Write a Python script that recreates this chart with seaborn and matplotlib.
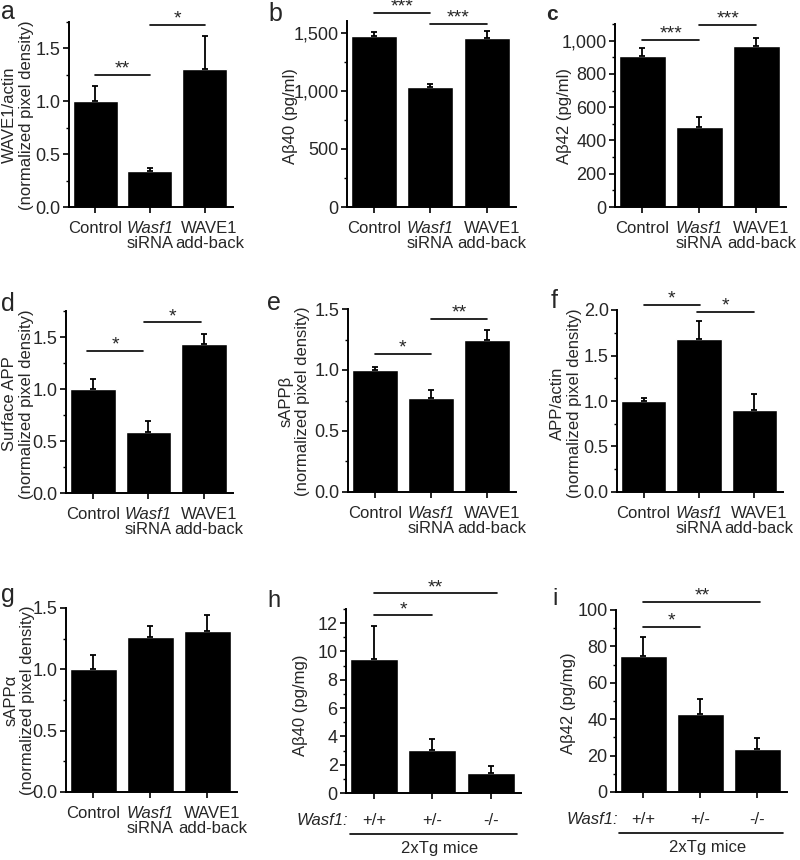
import matplotlib
matplotlib.use("Agg")
import matplotlib.pyplot as plt
import matplotlib.ticker as mticker
import matplotlib.font_manager as fm
import seaborn as sns
import pandas as pd
import numpy as np

# ---------------- data ----------------
groups = ["Control", "Wasf1 siRNA", "WAVE1 add-back"]
genotypes = ["+/+", "+/-", "-/-"]

wave1_actin = [1.00, 0.34, 1.31]
wave1_actin_err = [0.14, 0.03, 0.31]
ab40_cells = [1470, 1030, 1450]
ab40_cells_err = [38, 30, 60]
ab42_cells = [905, 480, 970]
ab42_cells_err = [50, 60, 45]
surface_app = [1.00, 0.59, 1.43]
surface_app_err = [0.10, 0.10, 0.10]
sapp_beta = [1.00, 0.77, 1.25]
sapp_beta_err = [0.025, 0.065, 0.08]
app_actin = [1.00, 1.68, 0.90]
app_actin_err = [0.035, 0.20, 0.175]
sapp_alpha = [1.00, 1.26, 1.31]
sapp_alpha_err = [0.12, 0.09, 0.13]
ab40_mice = [9.5, 3.05, 1.4]
ab40_mice_err = [2.27, 0.78, 0.5]
ab42_mice = [74.7, 42.8, 23.6]
ab42_mice_err = [10.5, 8.2, 6.1]

# significance brackets: (x_start, x_end, y, label)
sig_a = [(0, 1, 1.25, "**"), (1, 2, 1.72, "*")]
sig_b = [(0, 1, 1673, "***"), (1, 2, 1574, "***")]
sig_c = [(0, 1, 1006, "***"), (1, 2, 1094, "***")]
sig_d = [(-0.1, 0.9, 1.365, "*"), (0.92, 1.95, 1.64, "*")]
sig_e = [(0, 1, 1.13, "*"), (1, 2, 1.418, "**")]
sig_f = [(0, 1.02, 2.055, "*"), (0.97, 2, 1.98, "*")]
sig_g = []
sig_h = [(0, 1, 12.55, "*"), (0, 2.1, 14.1, "**")]
sig_i = [(0, 1, 90.7, "*"), (0, 2.05, 104.4, "**")]

# ---------------- style ----------------
fm.fontManager.ttflist = [f for f in fm.fontManager.ttflist
                          if "narrow" not in f.fname.lower()
                          and "narrow" not in f.name.lower()]
try:
    fm.FontManager._findfont_cached.cache_clear()
except Exception:
    pass

sns.set_style("ticks")
plt.rcParams['font.family'] = ['Liberation Sans', 'DejaVu Sans']

W, H = 800, 860
fig = plt.figure(figsize=(8, 8.6), dpi=100)
PT = 0.72  # points per pixel at 100 dpi


def add_ax(l, t, r, b):
    return fig.add_axes([l / W, 1 - b / H, (r - l) / W, (b - t) / H])


def panel(box, cats, vals, errs, ylim, major, minor, fmt, sig, kind):
    ax = add_ax(*box)
    df = pd.DataFrame({"group": cats, "value": vals})
    sns.barplot(data=df, x="group", y="value", order=cats, color="black",
                saturation=1, width=0.82, errorbar=None, ax=ax)
    n = len(vals)
    ax.errorbar(np.arange(n), vals, yerr=[np.zeros(n), errs], fmt="none",
                ecolor="black", elinewidth=1.3, capsize=2.2, capthick=1.3,
                zorder=3)
    ax.set_xlim(-0.48, 2.52)
    ax.set_ylim(*ylim)
    ax.yaxis.set_major_locator(mticker.MultipleLocator(major))
    ax.yaxis.set_minor_locator(mticker.MultipleLocator(minor))
    ax.yaxis.set_major_formatter(mticker.FuncFormatter(lambda v, p: fmt.format(v)))
    ax.set_xticks(range(n))
    ax.set_xticklabels([])
    ax.set_xlabel("")
    ax.set_ylabel("")
    sns.despine(ax=ax)
    for s in ("left", "bottom"):
        ax.spines[s].set_linewidth(1.4)
        ax.spines[s].set_color("black")
    ax.tick_params(axis="y", which="major", direction="out", length=4,
                   width=1.2, labelsize=13, pad=2, color="black")
    ax.tick_params(axis="y", which="minor", direction="out", length=2.5,
                   width=1.0, color="black")
    ax.tick_params(axis="x", which="major", direction="out", length=4,
                   width=1.2, color="black")
    ax.patch.set_alpha(0)

    hpx = box[3] - box[1]
    if kind == "groups":
        for i, c in enumerate(cats):
            parts = c.split(" ", 1)
            l1 = parts[0]
            l2 = parts[1] if len(parts) > 1 else ""
            dx = 5 if i == 2 else 0
            ax.annotate(l1, xy=(i, 0), xycoords=("data", "axes fraction"),
                        xytext=(dx * PT, -26 * PT), textcoords="offset points",
                        ha="center", va="baseline", fontsize=12,
                        fontstyle="italic" if l1 == "Wasf1" else "normal")
            if l2:
                ax.annotate(l2, xy=(i, 0), xycoords=("data", "axes fraction"),
                            xytext=(dx * PT, -41 * PT), textcoords="offset points",
                            ha="center", va="baseline", fontsize=12)
    else:
        for i, c in enumerate(cats):
            ax.annotate(c, xy=(i, 0), xycoords=("data", "axes fraction"),
                        xytext=(0, -32 * PT), textcoords="offset points",
                        ha="center", va="baseline", fontsize=12)
        ax.annotate("Wasf1:", xy=(0, 0), xycoords="axes fraction",
                    xytext=(2 * PT, -32 * PT), textcoords="offset points",
                    ha="right", va="baseline", fontsize=12, fontstyle="italic")
        yl = -41 / hpx
        ax.plot([0.02, 0.975], [yl, yl], transform=ax.transAxes, color="black",
                lw=1.2, clip_on=False)
        ax.text(0.535, -60 / hpx, "2xTg mice", transform=ax.transAxes,
                ha="center", va="baseline", fontsize=12)

    for x1, x2, y, lab in sig:
        ax.plot([x1, x2], [y, y], color="black", lw=1.2, clip_on=False)
        ax.annotate(lab, xy=((x1 + x2) / 2, y), xytext=(0, 1.0),
                    textcoords="offset points", ha="center", va="baseline",
                    fontsize=14, annotation_clip=False)
    return ax


# ---------------- panels ----------------
panel((69, 22, 233, 207), groups, wave1_actin, wave1_actin_err, (0, 1.75), 0.5, 0.25, "{:.1f}", sig_a, "groups")
panel((347, 21, 516, 207), groups, ab40_cells, ab40_cells_err, (0, 1600), 500, 250, "{:,.0f}", sig_b, "groups")
panel((615, 24, 786, 207), groups, ab42_cells, ab42_cells_err, (0, 1100), 200, 100, "{:,.0f}", sig_c, "groups")
panel((66, 311, 233, 493), groups, surface_app, surface_app_err, (0, 1.75), 0.5, 0.25, "{:.1f}", sig_d, "groups")
panel((348, 309, 516, 492), groups, sapp_beta, sapp_beta_err, (0, 1.5), 0.5, 0.25, "{:.1f}", sig_e, "groups")
panel((617, 310, 783, 492), groups, app_actin, app_actin_err, (0, 2.0), 0.5, 0.25, "{:.1f}", sig_f, "groups")
panel((66, 608, 237, 792), groups, sapp_alpha, sapp_alpha_err, (0, 1.5), 0.5, 0.25, "{:.1f}", sig_g, "groups")
panel((346, 609, 521, 793), genotypes, ab40_mice, ab40_mice_err, (0, 13), 2, 1, "{:.0f}", sig_h, "mice")
panel((616, 610, 787, 792), genotypes, ab42_mice, ab42_mice_err, (0, 100), 20, 10, "{:.0f}", sig_i, "mice")

# y labels (centre in pixels)
ylabels = [
    ("WAVE1/actin\n(normalized pixel density)", 18, 115),
    ("Aβ40 (pg/ml)", 290, 116),
    ("Aβ42 (pg/ml)", 564, 116),
    ("Surface APP\n(normalized pixel density)", 18, 404),
    ("sAPPβ\n(normalized pixel density)", 294, 401),
    ("APP/actin\n(normalized pixel density)", 566, 403),
    ("sAPPα\n(normalized pixel density)", 19, 700),
    ("Aβ40 (pg/mg)", 300, 705),
    ("Aβ42 (pg/mg)", 568, 703),
]
for txt, x, y in ylabels:
    fig.text(x / W, 1 - y / H, txt, rotation=90, ha="center", va="center",
             multialignment="center", fontsize=12, linespacing=1.15)

# panel letters (left x, baseline y in pixels)
letters = [("a", 1, 19, 18, "normal"), ("b", 268, 21, 18, "normal"),
           ("c", 546, 20, 15, "bold"), ("d", 1, 311, 18, "normal"),
           ("e", 267, 310, 18, "normal"), ("f", 551, 308, 18, "normal"),
           ("g", 1, 602, 18, "normal"), ("h", 267, 607, 17, "normal"),
           ("i", 552, 605, 17, "normal")]
for t, x, y, fs, fw in letters:
    fig.text(x / W, 1 - y / H, t, ha="left", va="baseline", fontsize=fs,
             fontweight=fw)

fig.savefig("out.png", dpi=100, facecolor="white")
